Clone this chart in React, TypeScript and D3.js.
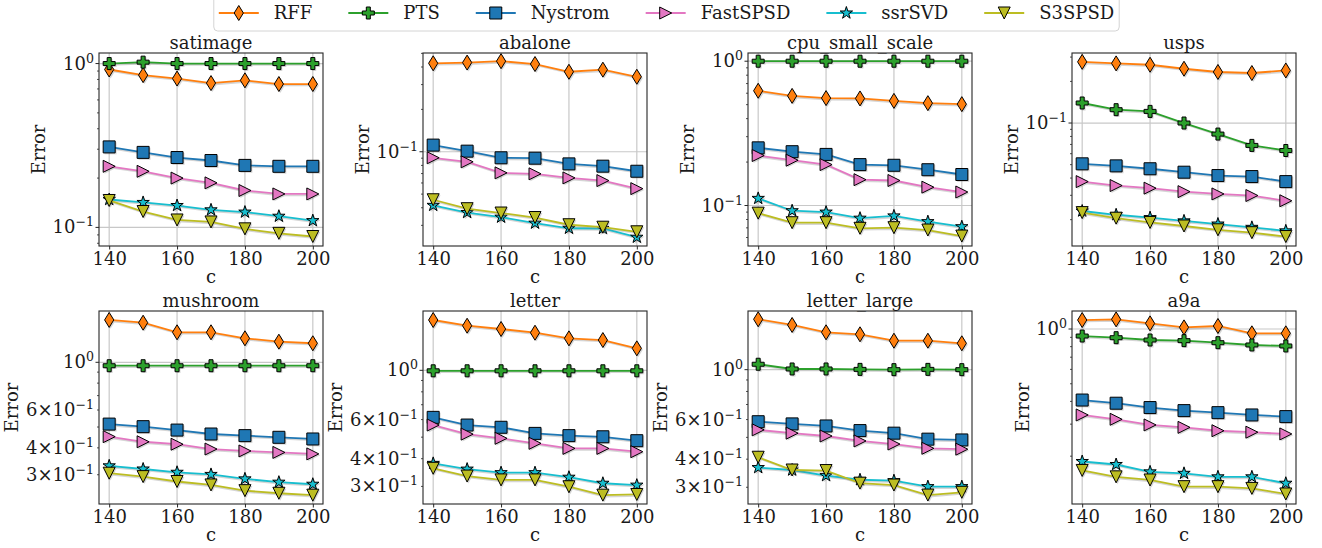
import React, { useEffect, useRef } from 'react';
import * as d3 from 'd3';

const cValues = [140, 150, 160, 170, 180, 190, 200];
const xTicks = [140, 160, 180, 200];
const methods = ['RFF', 'PTS', 'Nystrom', 'FastSPSD', 'ssrSVD', 'S3SPSD'];
const methodColors = ['#ff7f0e', '#2ca02c', '#1f77b4', '#e377c2', '#17becf', '#bcbd22'];
const methodMarkers = ['d', 'P', 's', '>', '*', 'v'];

const datasets = ['satimage', 'abalone', 'cpu_small_scale', 'usps', 'mushroom', 'letter', 'letter_large', 'a9a'];

// rows follow `methods`, columns follow `cValues`; null = not plotted
const satimage = [
  [0.92, 0.85, 0.81, 0.76, 0.79, 0.75, 0.75],
  [1.0, 1.02, 1.0, 1.0, 1.0, 1.0, 1.0],
  [0.31, 0.287, 0.267, 0.256, 0.239, 0.236, 0.236],
  [0.236, 0.22, 0.2, 0.187, 0.168, 0.16, 0.16],
  [0.148, 0.142, 0.136, 0.128, 0.124, 0.117, 0.11],
  [0.146, 0.125, 0.111, 0.108, 0.098, 0.092, 0.088],
];
const abalone = [
  [0.425, 0.43, 0.44, 0.42, 0.37, 0.383, 0.341],
  null,
  [0.1115, 0.101, 0.0906, 0.09, 0.082, 0.079, 0.0727],
  [0.0906, 0.0848, 0.0708, 0.0697, 0.0652, 0.0624, 0.0547],
  [0.0416, 0.037, 0.0343, 0.0311, 0.0286, 0.0285, 0.0247],
  [0.0456, 0.0394, 0.0367, 0.0341, 0.0303, 0.0291, 0.027],
];
const cpuSmallScale = [
  [0.624, 0.575, 0.555, 0.552, 0.531, 0.512, 0.504],
  [1.0, 1.0, 1.0, 1.0, 1.0, 1.0, 1.0],
  [0.251, 0.236, 0.226, 0.192, 0.19, 0.177, 0.164],
  [0.222, 0.206, 0.192, 0.151, 0.149, 0.134, 0.124],
  [0.112, 0.092, 0.09, 0.0817, 0.0847, 0.0773, 0.0713],
  [0.0885, 0.076, 0.076, 0.0695, 0.0702, 0.0676, 0.0614],
];
const usps = [
  [0.277, 0.27, 0.264, 0.247, 0.234, 0.23, 0.24],
  [0.1396, 0.1249, 0.1214, 0.1, 0.0832, 0.0689, 0.0633],
  [0.0507, 0.049, 0.0467, 0.0441, 0.0417, 0.041, 0.0377],
  [0.0377, 0.0353, 0.0338, 0.0319, 0.0307, 0.0299, 0.0274],
  [0.0231, 0.0217, 0.0207, 0.0196, 0.0186, 0.0176, 0.0166],
  [0.0225, 0.0205, 0.0191, 0.018, 0.0169, 0.0161, 0.0151],
];
const mushroom = [
  [1.574, 1.528, 1.379, 1.379, 1.293, 1.247, 1.226],
  [0.964, 0.964, 0.964, 0.964, 0.964, 0.964, 0.964],
  [0.516, 0.502, 0.484, 0.464, 0.456, 0.448, 0.44],
  [0.451, 0.427, 0.416, 0.395, 0.387, 0.381, 0.375],
  [0.33, 0.319, 0.308, 0.301, 0.287, 0.277, 0.271],
  [0.305, 0.294, 0.279, 0.269, 0.253, 0.246, 0.241],
];
const letter = [
  [1.685, 1.588, 1.535, 1.477, 1.393, 1.369, 1.256],
  [0.995, 0.995, 0.995, 0.995, 0.995, 0.995, 0.995],
  [0.614, 0.567, 0.554, 0.52, 0.508, 0.502, 0.482],
  [0.567, 0.516, 0.494, 0.469, 0.445, 0.445, 0.43],
  [0.381, 0.359, 0.346, 0.346, 0.33, 0.31, 0.304],
  [0.362, 0.334, 0.321, 0.321, 0.299, 0.274, 0.276],
];
const letterLarge = [
  [1.675, 1.58, 1.466, 1.436, 1.345, 1.345, 1.31],
  [1.057, 1.007, 1.007, 1.003, 1.0, 1.003, 1.0],
  [0.587, 0.574, 0.562, 0.536, 0.522, 0.491, 0.487],
  [0.54, 0.522, 0.507, 0.482, 0.467, 0.447, 0.443],
  [0.367, 0.358, 0.338, 0.324, 0.321, 0.302, 0.302],
  [0.408, 0.358, 0.356, 0.313, 0.307, 0.277, 0.285],
];
const a9a = [
  [1.12, 1.13, 1.074, 1.021, 1.039, 0.947, 0.947],
  [0.915, 0.896, 0.87, 0.863, 0.841, 0.817, 0.807],
  [0.407, 0.391, 0.37, 0.356, 0.347, 0.337, 0.33],
  [0.337, 0.319, 0.297, 0.288, 0.276, 0.271, 0.265],
  [0.187, 0.18, 0.164, 0.161, 0.154, 0.154, 0.142],
  [0.167, 0.154, 0.148, 0.136, 0.136, 0.133, 0.124],
];
const errors = [satimage, abalone, cpuSmallScale, usps, mushroom, letter, letterLarge, a9a];

// y limits (log axis) and labelled y ticks per panel
const yLimits = [
  [0.077, 1.16], [0.0214, 0.503], [0.0524, 1.14], [0.0129, 0.321],
  [0.2193, 1.732], [0.25, 1.85], [0.2528, 1.823], [0.1092, 1.256],
];
const yTickLabels = [
  [1, 0.1], [0.1], [1, 0.1], [0.1],
  [1, 0.6, 0.4, 0.3], [1, 0.6, 0.4, 0.3], [1, 0.6, 0.4, 0.3], [1],
];

// layout
const W = 1322, H = 548;
const xDomain = [137, 203];
const colLeft = [99, 423, 748, 1072];
const rowTop = [53, 311];
const axW = 224, axH = 193;
const FONT = "'DejaVu Serif', 'Liberation Serif', serif";
const FS = 18;

function markerPath(m: string): string {
  switch (m) {
    case 'd': return 'M0,-7.5L4.6,0L0,7.5L-4.6,0Z';
    case 'P': {
      const a = 6, b = 2;
      return `M${-b},${-a}H${b}V${-b}H${a}V${b}H${b}V${a}H${-b}V${b}H${-a}V${-b}H${-b}Z`;
    }
    case 's': return 'M-6,-6H6V6H-6Z';
    case '>': return 'M-6,-6L6,0L-6,6Z';
    case 'v': return 'M-6,-6L6,-6L0,6Z';
    case '*': {
      const R = 6.5, r = R * 0.382;
      const pts = d3.range(10).map(k => {
        const ang = -Math.PI / 2 + (k * Math.PI) / 5;
        const rr = k % 2 === 0 ? R : r;
        return [rr * Math.cos(ang), rr * Math.sin(ang)];
      });
      return 'M' + pts.map(p => p[0].toFixed(2) + ',' + p[1].toFixed(2)).join('L') + 'Z';
    }
  }
  return '';
}

function addPowerLabel(sel: d3.Selection<SVGTextElement, unknown, null, undefined>, v: number) {
  const e = Math.floor(Math.log10(v) + 1e-9);
  const m = Math.round(v / Math.pow(10, e));
  sel.append('tspan').text(m === 1 ? '10' : `${m}\u00d710`);
  sel.append('tspan').attr('dy', -7).attr('font-size', 12.6)
    .text(e < 0 ? `\u2212${-e}` : `${e}`);
}

export default function App() {
  const ref = useRef<SVGSVGElement>(null);

  useEffect(() => {
    const svg = d3.select(ref.current);
    svg.selectAll('*').remove();

    datasets.forEach((name, i) => {
      const left = colLeft[i % 4];
      const top = rowTop[Math.floor(i / 4)];
      const bottom = top + axH;
      const x = d3.scaleLinear().domain(xDomain).range([left, left + axW]);
      const y = d3.scaleLog().domain(yLimits[i]).range([bottom, top]);
      const g = svg.append('g');

      // grid
      xTicks.forEach(t => {
        g.append('line').attr('x1', x(t)).attr('x2', x(t)).attr('y1', top).attr('y2', bottom)
          .attr('stroke', '#c8c8c8').attr('stroke-width', 1.2);
      });
      const [lo, hi] = yLimits[i];
      const ticks: { v: number; major: boolean }[] = [];
      for (let e = Math.floor(Math.log10(lo)); e <= Math.ceil(Math.log10(hi)); e++) {
        for (let k = 1; k <= 9; k++) {
          const v = k * Math.pow(10, e);
          if (v >= lo && v <= hi) ticks.push({ v, major: k === 1 });
        }
      }
      ticks.filter(t => t.major).forEach(t => {
        g.append('line').attr('x1', left).attr('x2', left + axW).attr('y1', y(t.v)).attr('y2', y(t.v))
          .attr('stroke', '#c8c8c8').attr('stroke-width', 1.2);
      });

      // series
      const line = d3.line<[number, number]>().x(d => x(d[0])).y(d => y(d[1]));
      errors[i].forEach((vals, s) => {
        if (!vals) return;
        const pts = cValues.map((c, k) => [c, vals[k]] as [number, number]);
        const sh = g.append('g').attr('transform', 'translate(1.4,1.4)').attr('opacity', 0.3);
        sh.append('path').attr('d', line(pts)).attr('fill', 'none').attr('stroke', '#777').attr('stroke-width', 1.8);
        sh.selectAll('path.m').data(pts).enter().append('path').attr('class', 'm')
          .attr('d', markerPath(methodMarkers[s]))
          .attr('transform', d => `translate(${x(d[0])},${y(d[1])})`)
          .attr('fill', '#777');
        g.append('path').attr('d', line(pts)).attr('fill', 'none')
          .attr('stroke', methodColors[s]).attr('stroke-width', 1.8);
        g.selectAll(`path.m${s}`).data(pts).enter().append('path').attr('class', `m${s}`)
          .attr('d', markerPath(methodMarkers[s]))
          .attr('transform', d => `translate(${x(d[0])},${y(d[1])})`)
          .attr('fill', methodColors[s]).attr('stroke', '#000').attr('stroke-width', 1);
      });

      // spines
      g.append('rect').attr('x', left).attr('y', top).attr('width', axW).attr('height', axH)
        .attr('fill', 'none').attr('stroke', '#262626').attr('stroke-width', 1.1);

      // x axis
      const xa = g.append('g').attr('transform', `translate(0,${bottom})`)
        .call(d3.axisBottom(x).tickValues(xTicks).tickSize(3.5).tickPadding(2.7).tickSizeOuter(0));
      xa.select('.domain').remove();
      xa.selectAll('.tick line').attr('stroke', '#262626');
      xa.selectAll('.tick text').attr('font-family', FONT).attr('font-size', FS).attr('fill', '#1a1a1a');

      // y ticks
      ticks.forEach(t => {
        g.append('line').attr('x1', left - (t.major ? 3.5 : 2)).attr('x2', left)
          .attr('y1', y(t.v)).attr('y2', y(t.v)).attr('stroke', '#262626').attr('stroke-width', t.major ? 1 : 0.8);
      });
      const yl = g.append('g');
      yTickLabels[i].forEach(v => {
        const tx = yl.append('text').attr('x', left - 5).attr('y', y(v) + 6)
          .attr('text-anchor', 'end').attr('font-family', FONT).attr('font-size', FS).attr('fill', '#1a1a1a');
        addPowerLabel(tx, v);
      });
      const bb = (yl.node() as SVGGElement).getBBox();
      const cx = bb.x - 14;
      g.append('text').attr('transform', `translate(${cx},${top + axH / 2}) rotate(-90)`)
        .attr('dy', '0.36em').attr('text-anchor', 'middle')
        .attr('font-family', FONT).attr('font-size', FS).attr('fill', '#1a1a1a').text('Error');

      // labels
      g.append('text').attr('x', left + axW / 2).attr('y', bottom + 37).attr('text-anchor', 'middle')
        .attr('font-family', FONT).attr('font-size', FS).attr('fill', '#1a1a1a').text('c');
      g.append('text').attr('x', left + axW / 2).attr('y', top - 4).attr('text-anchor', 'middle')
        .attr('font-family', FONT).attr('font-size', FS).attr('fill', '#1a1a1a').text(name);
    });

    // legend
    const handleLen = 40, textPad = 15, colSpace = 36, pad = 5;
    const lg = svg.append('g');
    const box = lg.append('rect');
    const ent = lg.append('g');
    let cur = 0;
    const cy = 13;
    methods.forEach((m, s) => {
      ent.append('line').attr('x1', cur).attr('x2', cur + handleLen).attr('y1', cy).attr('y2', cy)
        .attr('stroke', methodColors[s]).attr('stroke-width', 1.8);
      ent.append('path').attr('d', markerPath(methodMarkers[s]))
        .attr('transform', `translate(${cur + handleLen / 2},${cy})`)
        .attr('fill', methodColors[s]).attr('stroke', '#000').attr('stroke-width', 1);
      const t = ent.append('text').attr('x', cur + handleLen + textPad).attr('y', cy + 6)
        .attr('font-family', FONT).attr('font-size', FS).attr('fill', '#1a1a1a').text(m);
      const tw = (t.node() as SVGTextElement).getComputedTextLength();
      cur += handleLen + textPad + tw + (s < methods.length - 1 ? colSpace : 0);
    });
    const total = cur + 2 * pad;
    const lx = 666.5 - total / 2;
    ent.attr('transform', `translate(${lx + pad},0)`);
    box.attr('x', lx).attr('y', -4).attr('width', total).attr('height', 35).attr('rx', 4)
      .attr('fill', '#fff').attr('stroke', '#d4d4d4').attr('stroke-width', 1);
  }, []);

  return (
    <div style={{ position: 'absolute', left: 0, top: 0, background: '#fff' }}>
      <svg ref={ref} width={W} height={H} style={{ display: 'block' }} />
    </div>
  );
}
